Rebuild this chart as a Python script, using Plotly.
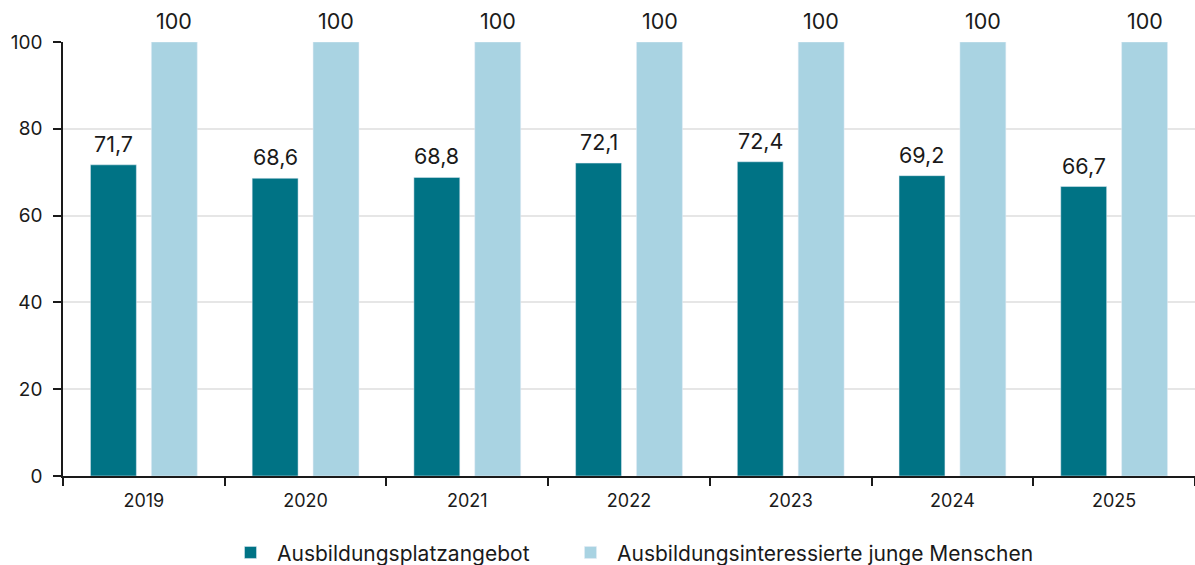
import plotly.graph_objects as go

years = ["2019", "2020", "2021", "2022", "2023", "2024", "2025"]
angebot = [71.7, 68.6, 68.8, 72.1, 72.4, 69.2, 66.7]
interessierte = [100, 100, 100, 100, 100, 100, 100]
name_a = "Ausbildungsplatzangebot"
name_b = "Ausbildungsinteressierte junge Menschen"

def fmt(v):
    s = f"{v:.1f}".replace(".", ",")
    return s[:-2] if s.endswith(",0") else s

FONT = "Inter, Open Sans, sans-serif"

fig = go.Figure()
fig.add_trace(go.Bar(x=years, y=angebot, name=name_a, marker_color="#007385",
                     legend="legend", showlegend=True))
fig.add_trace(go.Bar(x=years, y=interessierte, name=name_b, marker_color="#a9d3e2",
                     legend="legend2", showlegend=True))

annotations = []
for series, shift in ((angebot, -30.5), (interessierte, 30.5)):
    for i, v in enumerate(series):
        annotations.append(dict(x=i, y=v, xref="x", yref="y", text=fmt(v), showarrow=False,
                                xanchor="center", yanchor="bottom",
                                xshift=shift, yshift=6,
                                font=dict(size=21.5, color="#1a1a1a")))

def leg(x):
    return dict(orientation="h", xref="container", xanchor="left", x=x,
                y=-0.177, yanchor="middle", font=dict(size=21), itemwidth=43,
                visible=True)

fig.update_layout(
    width=1195, height=565,
    margin=dict(l=63, r=0, t=42, b=89, autoexpand=False),
    plot_bgcolor="white", paper_bgcolor="white",
    font=dict(family=FONT, size=17, color="#1a1a1a"),
    showlegend=True,
    barmode="group", bargap=0.247, bargroupgap=0.246,
    annotations=annotations,
    legend=leg(224 / 1195),
    legend2=leg(564 / 1195),
    xaxis=dict(type="category", range=[-0.5, len(years) - 0.5], showline=True,
               linecolor="#1a1a1a", linewidth=1.5, automargin=False,
               ticks="outside", tickson="boundaries", ticklen=8, tickcolor="#1a1a1a",
               tickwidth=1.5, tickfont=dict(size=18), ticklabelstandoff=8),
    yaxis=dict(range=[0, 100], showline=True, linecolor="#1a1a1a", linewidth=1.5,
               automargin=False,
               ticks="outside", ticklen=8, tickcolor="#1a1a1a", tickwidth=1.5,
               dtick=20, showgrid=True, gridcolor="#e6e6e6", gridwidth=2,
               zeroline=False, tickfont=dict(size=19), ticklabelstandoff=7),
)

fig.write_html("out.html", post_script="document.body.style.margin='0';",
               config={"displayModeBar": False})
